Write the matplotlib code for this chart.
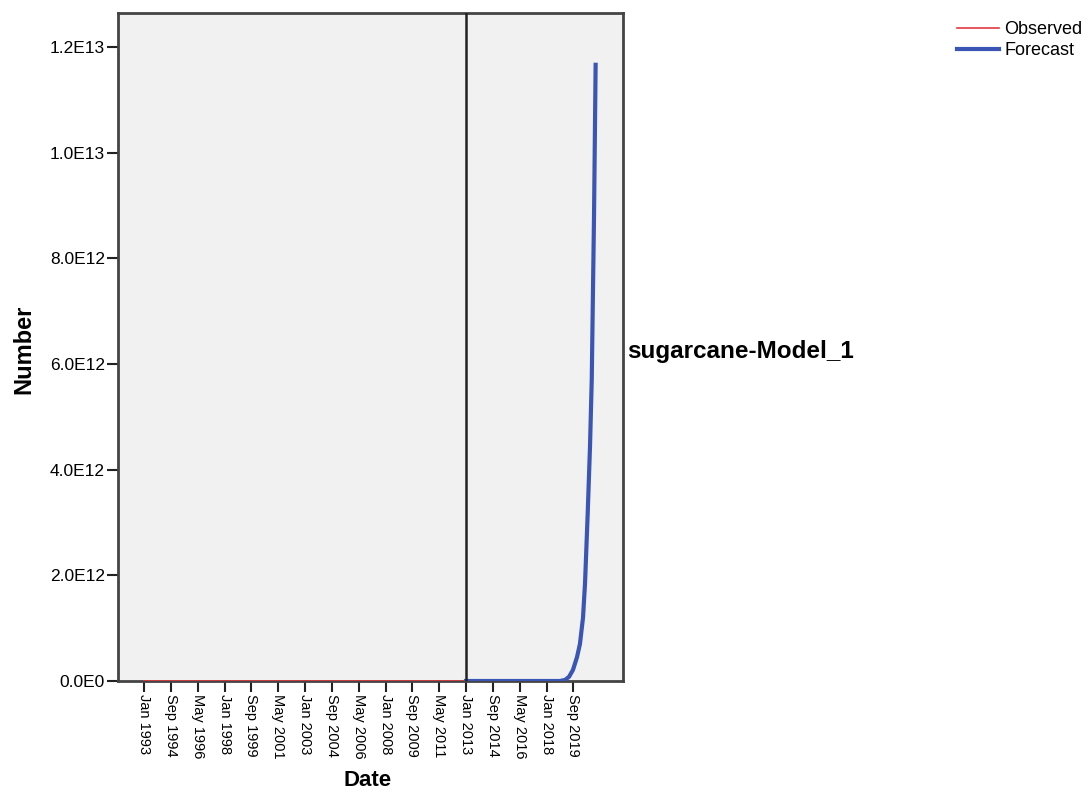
import matplotlib.pyplot as plt
import numpy as np

plt.rcParams['font.family'] = ['Liberation Sans', 'DejaVu Sans']

# x positions are months since Jan 1993
obs_months = [0, 12, 24, 36, 48, 60, 72, 84, 96, 108, 120, 132, 144, 156, 168,
              180, 192, 204, 216, 228, 240]
obs_values = [0.0] * len(obs_months)

fc_months = [240, 260, 280, 300, 310, 313.8, 316.8, 319.7, 322.7, 324.9, 327.2,
             328.7, 330.7, 332.4, 333.7, 335.4, 336.6]
fc_values = [0.0, 0.0, 0.0, 0.0, 0.0, 0.02e12, 0.08e12, 0.21e12, 0.45e12,
             0.7e12, 1.2e12, 1.85e12, 3.18e12, 4.43e12, 5.7e12, 8.8e12, 11.66e12]

tick_months = np.arange(0, 321, 20)
tick_labels = ['Jan 1993', 'Sep 1994', 'May 1996', 'Jan 1998', 'Sep 1999',
               'May 2001', 'Jan 2003', 'Sep 2004', 'May 2006', 'Jan 2008',
               'Sep 2009', 'May 2011', 'Jan 2013', 'Sep 2014', 'May 2016',
               'Jan 2018', 'Sep 2019']
y_ticks = [0, 2e12, 4e12, 6e12, 8e12, 1.0e13, 1.2e13]
y_labels = ['0.0E0', '2.0E12', '4.0E12', '6.0E12', '8.0E12', '1.0E13', '1.2E13']

fig = plt.figure(figsize=(10.91, 7.93), dpi=100)
ax = fig.add_axes([118 / 1091, 1 - 681 / 793, (623 - 118) / 1091, (681 - 13) / 793])
ax.set_facecolor('#f0f1f0')

ax.plot(obs_months, obs_values, color='#e0393e', linewidth=1.2, label='Observed', zorder=3)
ax.plot(fc_months, fc_values, color='#3a55b4', linewidth=3, label='Forecast',
        zorder=4, solid_joinstyle='round')
ax.axvline(240, color='#222222', linewidth=1.8, zorder=5)

ax.set_xlim(-19.4, 357)
ax.set_ylim(0, 1.264e13)
ax.set_xticks(tick_months)
ax.set_xticklabels(tick_labels, rotation=270, fontsize=10.5)
ax.set_yticks(y_ticks)
ax.set_yticklabels(y_labels, fontsize=12.5)
ax.tick_params(direction='out', length=8, width=1.5, color='#222222', pad=1.5)

for s in ax.spines.values():
    s.set_linewidth(2)
    s.set_color('#444444')

fig.text(368 / 1091, 1 - 780 / 793, 'Date', ha='center', va='center',
         fontsize=16, fontweight='bold')
fig.text(24 / 1091, 1 - 349 / 793, 'Number', ha='center', va='center',
         rotation=90, fontsize=17, fontweight='bold')
fig.text(627 / 1091, 1 - 351 / 793, 'sugarcane-Model_1', ha='left', va='center',
         fontsize=17.5, fontweight='bold')

fig.legend(loc='upper left', bbox_to_anchor=(950 / 1091, 1 - 14 / 793),
           frameon=False, fontsize=13, handlelength=2.3, handletextpad=0.3,
           labelspacing=0.2, borderaxespad=0)

fig.savefig('out.png', dpi=100)
